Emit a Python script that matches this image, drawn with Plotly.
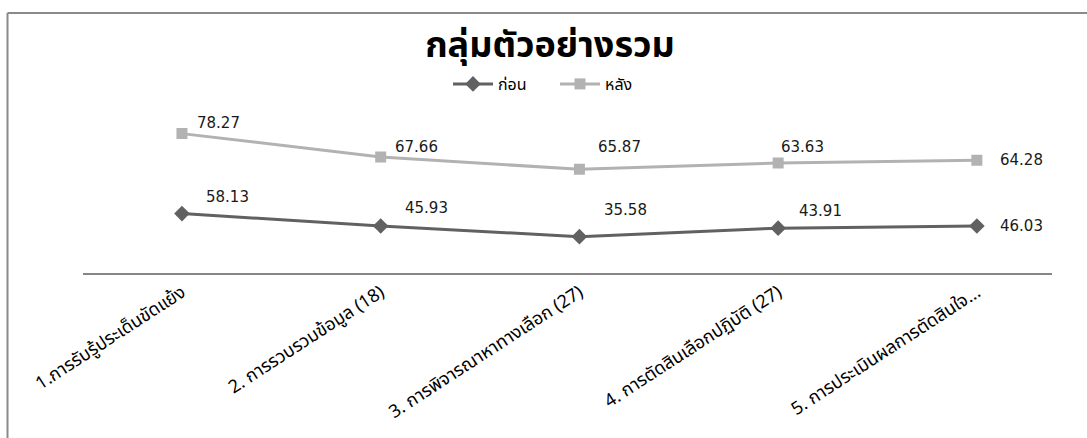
import plotly.graph_objects as go
import numpy as np

W, H = 1087, 438

categories = [
    "1.การรับรู้ประเด็นขัดแย้ง",
    "2. การรวบรวมข้อมูล (18)",
    "3. การพิจารณาหาทางเลือก (27)",
    "4. การตัดสินเลือกปฏิบัติ (27)",
    "5. การประเมินผลการตัดสินใจ...",
]
before = [58.13, 45.93, 35.58, 43.91, 46.03]   # ก่อน
after = [78.27, 67.66, 65.87, 63.63, 64.28]    # หลัง

title_text = "กลุ่มตัวอย่างรวม"
name_before = "ก่อน"
name_after = "หลัง"

FONT = "Tahoma, 'Noto Sans Thai', 'Noto Sans', 'DejaVu Sans', sans-serif"
NUMFONT = "'DejaVu Sans', Verdana, sans-serif"

x = list(range(len(categories)))

fig = go.Figure()
fig.add_trace(go.Scatter(
    x=x, y=before, name=name_before, mode="lines+markers",
    stackgroup="s", fill="none",
    line=dict(color="#616161", width=3),
    marker=dict(symbol="diamond", size=12, color="#616161"),
))
fig.add_trace(go.Scatter(
    x=x, y=after, name=name_after, mode="lines+markers",
    stackgroup="s", fill="none",
    line=dict(color="#b2b2b2", width=3),
    marker=dict(symbol="square", size=11, color="#b2b2b2"),
))

stack_after = np.array(before) + np.array(after)
off_before = [(46, 17), (46, 18), (46, 27), (42, 17), (45, 0)]
off_after = [(37, 11), (36, 10), (40, 22), (24, 16), (45, 0)]
for i in x:
    fig.add_annotation(x=i, y=before[i], text=f"{before[i]:.2f}", showarrow=False,
                       xshift=off_before[i][0], yshift=off_before[i][1],
                       font=dict(family=NUMFONT, size=15, color="#1a1a1a"))
    fig.add_annotation(x=i, y=float(stack_after[i]), text=f"{after[i]:.2f}", showarrow=False,
                       xshift=off_after[i][0], yshift=off_after[i][1],
                       font=dict(family=NUMFONT, size=15, color="#1a1a1a"))

x0, x1 = 82.6, 1052.0
y_top, y_bot = 109.5, 273.0
fig.update_layout(
    width=W, height=H,
    margin=dict(l=0, r=0, t=0, b=0, autoexpand=False),
    paper_bgcolor="white", plot_bgcolor="white",
    title=dict(text=f"<b>{title_text}</b>", x=550 / W, xanchor="center",
               y=1 - 44 / H, yanchor="middle",
               font=dict(family=FONT, size=36, color="#000000")),
    legend=dict(orientation="h", x=555 / W, xanchor="center", y=1 - 84 / H, yanchor="middle",
                font=dict(family=FONT, size=16, color="#000000"),
                itemwidth=40, entrywidth=52, entrywidthmode="pixels",
                traceorder="normal", bgcolor="rgba(0,0,0,0)"),
    showlegend=True,
    xaxis=dict(domain=[x0 / W, x1 / W], range=[-0.5, 4.378], automargin=False,
               tickmode="array", tickvals=x, ticktext=categories, tickangle=-33,
               tickfont=dict(family=FONT, size=18, color="#000000"),
               showline=True, linecolor="#868686", linewidth=2,
               showgrid=False, zeroline=False, ticks=""),
    yaxis=dict(domain=[(H - y_bot) / H, (H - y_top) / H], range=[0, 160], automargin=False,
               visible=False, showgrid=False, zeroline=False),
    shapes=[
        dict(type="line", xref="paper", yref="paper", x0=7.5 / W, x1=7.5 / W,
             y0=0, y1=1 - 13 / H, line=dict(color="#8a8a8a", width=2)),
        dict(type="line", xref="paper", yref="paper", x0=7.5 / W, x1=1,
             y0=1 - 13 / H, y1=1 - 13 / H, line=dict(color="#8a8a8a", width=2)),
    ],
)

fig.write_html("out.html")
